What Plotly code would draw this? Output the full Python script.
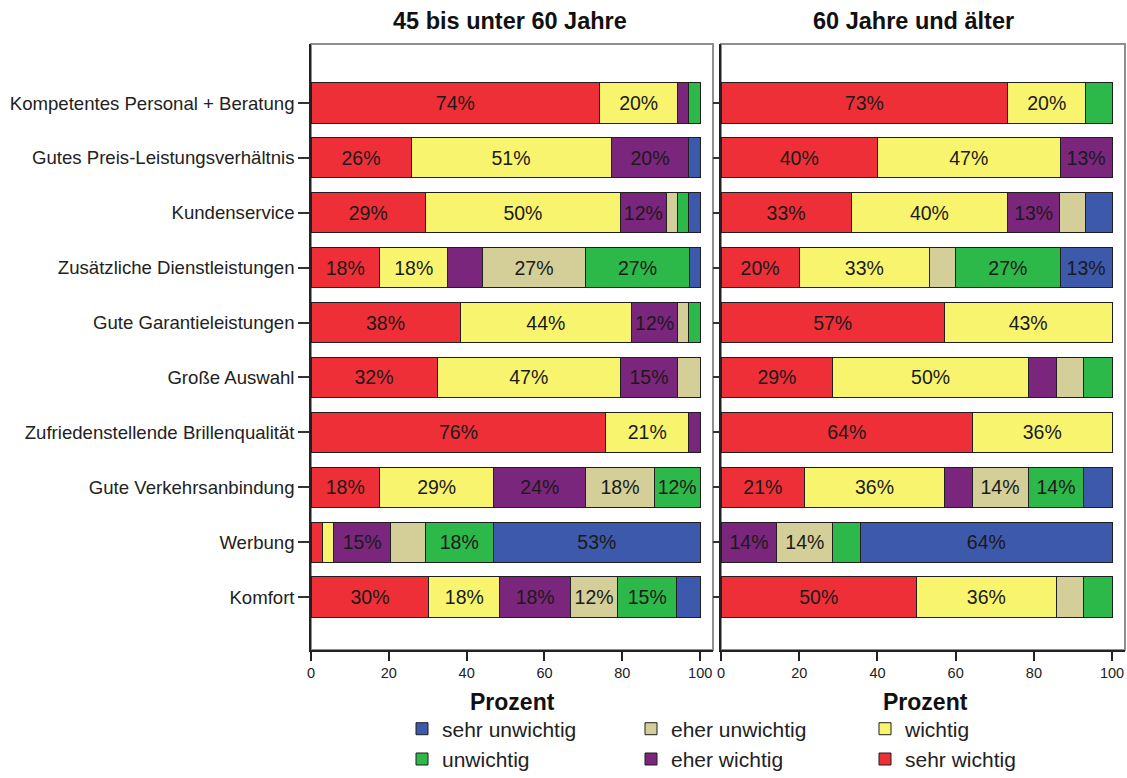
import plotly.graph_objects as go

# Items rated (top to bottom)
items = [
    "Kompetentes Personal + Beratung",
    "Gutes Preis-Leistungsverhältnis",
    "Kundenservice",
    "Zusätzliche Dienstleistungen",
    "Gute Garantieleistungen",
    "Große Auswahl",
    "Zufriedenstellende Brillenqualität",
    "Gute Verkehrsanbindung",
    "Werbung",
    "Komfort",
]

# Answer categories in stacking order (left to right)
levels = ["sehr wichtig", "wichtig", "eher wichtig", "eher unwichtig", "unwichtig", "sehr unwichtig"]
colors = ["#EF2F37", "#F9F46E", "#7B267D", "#D4CE99", "#2DB84A", "#3D59AB"]

group_titles = ["45 bis unter 60 Jahre", "60 Jahre und älter"]

# Percent per item, one list per answer category
age45_sehr_wichtig   = [74.2, 25.7, 29.4, 17.6, 38.3, 32.4, 75.8, 17.6, 2.9, 30.3]
age45_wichtig        = [20.0, 51.4, 50.1, 17.6, 44.1, 47.1, 21.2, 29.4, 2.9, 18.2]
age45_eher_wichtig   = [2.9, 20.0, 11.8, 8.8, 11.8, 14.7, 3.0, 23.6, 14.7, 18.2]
age45_eher_unwichtig = [0, 0, 2.9, 26.6, 2.9, 5.8, 0, 17.6, 8.8, 12.1]
age45_unwichtig      = [2.9, 0, 2.9, 26.6, 2.9, 0, 0, 11.8, 17.6, 15.2]
age45_sehr_unwichtig = [0, 2.9, 2.9, 2.8, 0, 0, 0, 0, 53.1, 6.0]

age60_sehr_wichtig   = [73.3, 40.0, 33.3, 20.0, 57.1, 28.6, 64.3, 21.4, 0, 50.0]
age60_wichtig        = [20.0, 46.7, 40.0, 33.3, 42.9, 50.0, 35.7, 35.7, 0, 35.7]
age60_eher_wichtig   = [0, 13.3, 13.3, 0, 0, 7.1, 0, 7.1, 14.3, 0]
age60_eher_unwichtig = [0, 0, 6.7, 6.7, 0, 7.1, 0, 14.3, 14.3, 7.1]
age60_unwichtig      = [6.7, 0, 0, 26.7, 0, 7.2, 0, 14.3, 7.1, 7.2]
age60_sehr_unwichtig = [0, 0, 6.7, 13.3, 0, 0, 0, 7.2, 64.3, 0]

groups = [
    [age45_sehr_wichtig, age45_wichtig, age45_eher_wichtig,
     age45_eher_unwichtig, age45_unwichtig, age45_sehr_unwichtig],
    [age60_sehr_wichtig, age60_wichtig, age60_eher_wichtig,
     age60_eher_unwichtig, age60_unwichtig, age60_sehr_unwichtig],
]

x_ticks = [0, 20, 40, 60, 80, 100]

# which legend column each category goes into
legend_of = {
    "sehr unwichtig": "legend", "unwichtig": "legend",
    "eher unwichtig": "legend2", "eher wichtig": "legend2",
    "wichtig": "legend3", "sehr wichtig": "legend3",
}

FONT = "Liberation Sans, Arial, sans-serif"
W, H = 1127, 778

def px_x(p):
    return p / W

def px_y(p):
    return 1 - p / H

fig = go.Figure()

for gi, series in enumerate(groups):
    xa = "x" if gi == 0 else "x2"
    ya = "y" if gi == 0 else "y2"
    for level, color, vals in zip(levels, colors, series):
        xs = [v if v > 0 else None for v in vals]
        labels = [f"{round(v)}%" if v >= 10 else "" for v in vals]
        fig.add_trace(go.Bar(
            x=xs, y=items, orientation="h",
            xaxis=xa, yaxis=ya,
            name=level, legendgroup=level,
            legend=legend_of[level],
            showlegend=(gi == 0),
            width=0.73,
            marker=dict(color=color, line=dict(color="#1f1f1f", width=1)),
            text=labels, textposition="inside", insidetextanchor="middle",
            textangle=0, constraintext="none",
            textfont=dict(family=FONT, size=19.5, color="#1a1a1a"),
            hovertemplate="%{y}<br>" + level + ": %{x:.1f}%<extra></extra>",
        ))

ydom = [px_y(650), px_y(44)]
yrange = [9.965, -1.075]

common_x = dict(
    range=[0, 103.3], tickvals=x_ticks, ticks="outside", ticklen=9,
    tickcolor="#222", tickwidth=1.5, showline=True, linecolor="#222", linewidth=1.5,
    showgrid=False, zeroline=False, fixedrange=True,
    tickfont=dict(family=FONT, size=14.5, color="#222"),
)
common_y = dict(
    type="category", categoryorder="array", categoryarray=items,
    range=yrange, showgrid=False, zeroline=False, showline=True,
    linecolor="#222", linewidth=1.5, ticks="outside", tickcolor="#333",
    tickwidth=1.5, fixedrange=True, domain=ydom,
)

legend_style = dict(
    xanchor="left", yanchor="bottom", y=-0.002,
    traceorder="reversed", font=dict(family=FONT, size=21, color="#222"),
    bgcolor="rgba(0,0,0,0)", tracegroupgap=0,
)

fig.update_layout(
    width=W, height=H,
    margin=dict(l=0, r=0, t=0, b=0, autoexpand=False),
    paper_bgcolor="white", plot_bgcolor="white",
    barmode="stack", bargap=0.27,
    font=dict(family=FONT, color="#222"),
    xaxis=dict(domain=[px_x(311), px_x(713)], anchor="y", **common_x),
    xaxis2=dict(domain=[px_x(721), px_x(1125)], anchor="y2", **common_x),
    yaxis=dict(anchor="x", ticklen=11, showticklabels=True,
               tickfont=dict(family=FONT, size=18.6, color="#222"), **common_y),
    yaxis2=dict(anchor="x2", ticklen=6, showticklabels=False, **common_y),
    legend=dict(x=px_x(402), **legend_style),
    legend2=dict(x=px_x(631), **legend_style),
    legend3=dict(x=px_x(865), **legend_style),
    showlegend=True,
)

# panel frames
for x0, x1 in [(311, 713), (721, 1125)]:
    fig.add_shape(type="rect", xref="paper", yref="paper",
                  x0=px_x(x0), x1=px_x(x1), y0=px_y(650), y1=px_y(44),
                  line=dict(color="#8f8f8f", width=2), layer="below")

# panel titles
for title, cx in zip(group_titles, [510, 913]):
    fig.add_annotation(text=f"<b>{title}</b>", x=px_x(cx), y=px_y(21),
                       xref="paper", yref="paper", showarrow=False,
                       xanchor="center", yanchor="middle",
                       font=dict(family=FONT, size=23.5, color="#111"))

# legend headings
for cx in [512, 925]:
    fig.add_annotation(text="<b>Prozent</b>", x=px_x(cx), y=px_y(702),
                       xref="paper", yref="paper", showarrow=False,
                       xanchor="center", yanchor="middle",
                       font=dict(family=FONT, size=23, color="#111"))

fig.write_html("out.html")
